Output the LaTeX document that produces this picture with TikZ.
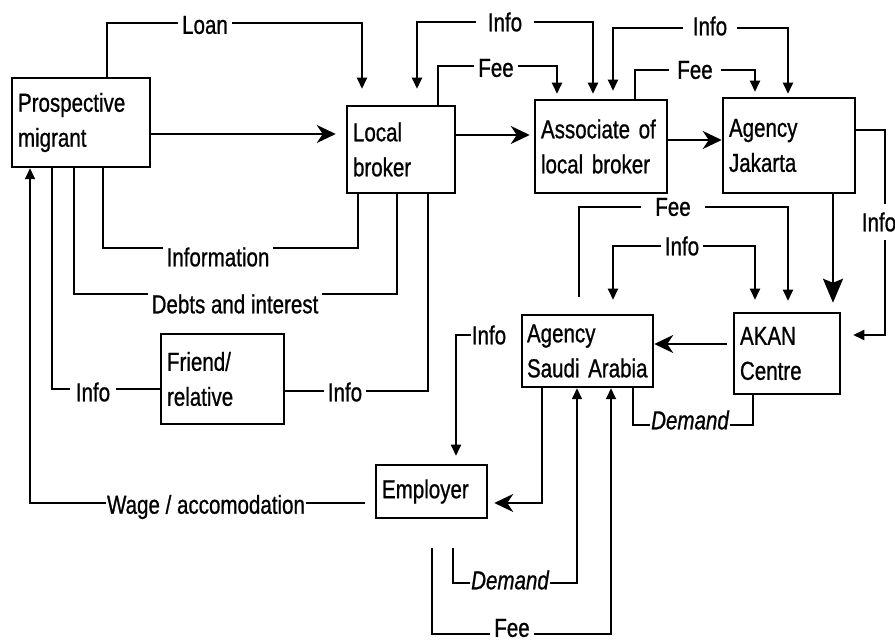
\documentclass[tikz,border=0pt]{standalone}
\usepackage{fontspec}
\setmainfont[FakeStretch=0.79,FakeBold=0.8]{Liberation Sans}
\usetikzlibrary{arrows.meta}
\begin{document}
\begin{tikzpicture}[x=1pt,y=-1pt,
  box/.style={draw, line width=2.5pt, align=left, inner xsep=6pt, inner ysep=0pt, font=\fontsize{26}{35}\selectfont},
  lbl/.style={fill=white, inner xsep=4pt, inner ysep=1pt, font=\fontsize{26}{28}\selectfont},
  ilbl/.style={lbl, font=\fontsize{26}{28}\selectfont\itshape},
  con/.style={line width=2pt},
  sarr/.style={con, -{Triangle[length=11pt,width=10pt]}},
  sboth/.style={con, {Triangle[length=11pt,width=10pt]}-{Triangle[length=11pt,width=10pt]}},
  big/.style={con, -{Stealth[length=19pt,width=18pt,inset=6pt]}}]
\useasboundingbox (0,0) rectangle (895,644);

% boxes
\node[box, minimum width=138pt, minimum height=89pt, text width=126pt] (mig) at (81,122.5) {Prospective\\migrant};
\node[box, minimum width=108pt, minimum height=87pt, text width=96pt] (lb) at (401,149.5) {Local\\broker};
\node[box, minimum width=132pt, minimum height=93pt, text width=120pt] (assoc) at (601,146.5) {Associate of\\local broker};
\node[box, minimum width=132pt, minimum height=95pt, text width=120pt] (jak) at (789,145.5) {Agency\\Jakarta};
\node[box, minimum width=131pt, minimum height=72pt, text width=121pt, inner xsep=5pt] (saudi) at (587.5,351) {Agency\\Saudi Arabia};
\node[box, minimum width=106pt, minimum height=81pt, text width=94pt] (akan) at (787,353.5) {AKAN\\Centre};
\node[box, minimum width=123pt, minimum height=90pt, text width=111pt] (friend) at (222.5,379) {Friend/\\relative};
\node[box, minimum width=111pt, minimum height=53pt, text width=99pt] (emp) at (431.5,491.5) {Employer};

% main flow
\coordinate (yA) at (0,134);
\draw[big, shorten >=10pt] (mig.east |- yA) -- (lb.west |- yA);
\coordinate (yB) at (0,135);
\draw[big, shorten >=4pt] (lb.east |- yB) -- (assoc.west |- yB);
\coordinate (yC) at (0,140);
\draw[big] (assoc.east |- yC) -- (jak.west |- yC);
\coordinate (xD) at (833,0);
\draw[con, -{Stealth[length=24pt,width=20pt,inset=4pt]}, shorten >=9pt] (jak.south -| xD) -- (akan.north -| xD);
\coordinate (yE) at (0,344);
\draw[big, shorten <=6pt] (akan.west |- yE) -- (saudi.east |- yE);
\coordinate (cF) at (542,503);
\draw[big, shorten >=6pt] (saudi.south -| cF) -- (cF) -- (emp.east |- cF);

% Loan
\coordinate (a1) at (107,23); \coordinate (a2) at (362,23);
\draw[sarr, shorten >=16pt] (mig.north -| a1) -- (a1) -- (a2) -- (lb.north -| a2);
\node[lbl] (tLoan) at (205,25) {Loan};

% Info local broker - associate
\coordinate (b1) at (417,22); \coordinate (b2) at (593,22);
\draw[sboth, shorten <=16pt, shorten >=5pt] (lb.north -| b1) -- (b1) -- (b2) -- (assoc.north -| b2);
\node[lbl, inner xsep=12pt] (tInfo1) at (505,22) {Info};

% Fee local broker -> associate
\coordinate (c1) at (438,66); \coordinate (c2) at (557,66);
\draw[sarr, shorten >=5pt] (lb.north -| c1) -- (c1) -- (c2) -- (assoc.north -| c2);
\node[lbl] (tFee1) at (496,68) {Fee};

% Info associate - Jakarta
\coordinate (d1) at (613,28); \coordinate (d2) at (788,28);
\draw[sboth, shorten <=8pt, shorten >=3pt] (assoc.north -| d1) -- (d1) -- (d2) -- (jak.north -| d2);
\node[lbl, inner xsep=10pt] (tInfo2) at (710,26) {Info};

% Fee associate -> Jakarta
\coordinate (e1) at (635,70); \coordinate (e2) at (755,70);
\draw[sarr, shorten >=5pt] (assoc.north -| e1) -- (e1) -- (e2) -- (jak.north -| e2);
\node[lbl, inner xsep=8pt] (tFee2) at (695,70) {Fee};

% Info Jakarta -> AKAN
\coordinate (f1) at (885,130); \coordinate (f2) at (885,335);
\draw[sarr, shorten >=12pt] (jak.east |- f1) -- (f1) -- (f2) -- (akan.east |- f2);
\node[lbl, inner ysep=8pt, inner xsep=1pt] (tInfo3) at (879,222) {Info};

% Fee Saudi -> AKAN
\coordinate (g1) at (579,207); \coordinate (g2) at (788,207);
\draw[sarr, shorten <=17pt, shorten >=11pt] (saudi.north -| g1) -- (g1) -- (g2) -- (akan.north -| g2);
\node[lbl, inner xsep=14pt] (tFee3) at (673,207) {Fee};

% Info Saudi - AKAN
\coordinate (h1) at (613,246); \coordinate (h2) at (755,246);
\draw[sboth, shorten <=14pt, shorten >=12pt] (saudi.north -| h1) -- (h1) -- (h2) -- (akan.north -| h2);
\node[lbl] (tInfo4) at (682,246) {Info};

% Demand AKAN - Saudi
\coordinate (k1) at (753,425); \coordinate (k2) at (633,425);
\draw[con] (akan.south -| k1) -- (k1) -- (k2) -- (saudi.south -| k2);
\node[ilbl, inner xsep=1pt] (tDem1) at (690,420) {Demand};

% Info -> Employer
\node[lbl, inner xsep=1pt] (tInfo5) at (489,335) {Info};
\coordinate (m1) at (456,335);
\draw[sarr, shorten >=8pt] (tInfo5.west) -- (m1) -- (emp.north -| m1);

% Demand Employer -> Saudi
\coordinate (n1) at (453,583); \coordinate (n2) at (577,583);
\draw[sarr, shorten <=29pt] (emp.south -| n1) -- (n1) -- (n2) -- (saudi.south -| n2);
\node[ilbl, inner xsep=1pt] (tDem2) at (510,580) {Demand};

% Fee Employer -> Saudi
\coordinate (p1) at (432,634); \coordinate (p2) at (611,634);
\draw[sarr, shorten <=29pt] (emp.south -| p1) -- (p1) -- (p2) -- (saudi.south -| p2);
\node[lbl, inner ysep=0pt] (tFee4) at (512,628) {Fee};

% Information local broker -> migrant
\coordinate (q1) at (358,248); \coordinate (q2) at (103,248);
\draw[con] (lb.south -| q1) -- (q1) -- (q2) -- (mig.south -| q2);
\node[lbl] (tInfor) at (218,257) {Information};

% Debts and interest
\coordinate (r1) at (397,294); \coordinate (r2) at (74,294);
\draw[con] (lb.south -| r1) -- (r1) -- (r2) -- (mig.south -| r2);
\node[lbl] (tDebt) at (235,304) {Debts and interest};

% Info local broker -> friend
\coordinate (s1) at (428,391);
\draw[con] (lb.south -| s1) -- (s1) -- (friend.east |- s1);
\node[lbl] (tInfo6) at (345,392) {Info};

% Info friend -> migrant
\coordinate (t1) at (52,389);
\draw[con] (friend.west |- t1) -- (t1) -- (mig.south -| t1);
\node[lbl, inner xsep=6pt] (tInfo7) at (93,392) {Info};

% Wage / accomodation
\coordinate (u1) at (30,503);
\draw[sarr, shorten <=10pt] (emp.west |- u1) -- (u1) -- (mig.south -| u1);
\node[lbl, inner xsep=1pt] (tWage) at (206,507) {Wage / accomodation};
\end{tikzpicture}
\end{document}
